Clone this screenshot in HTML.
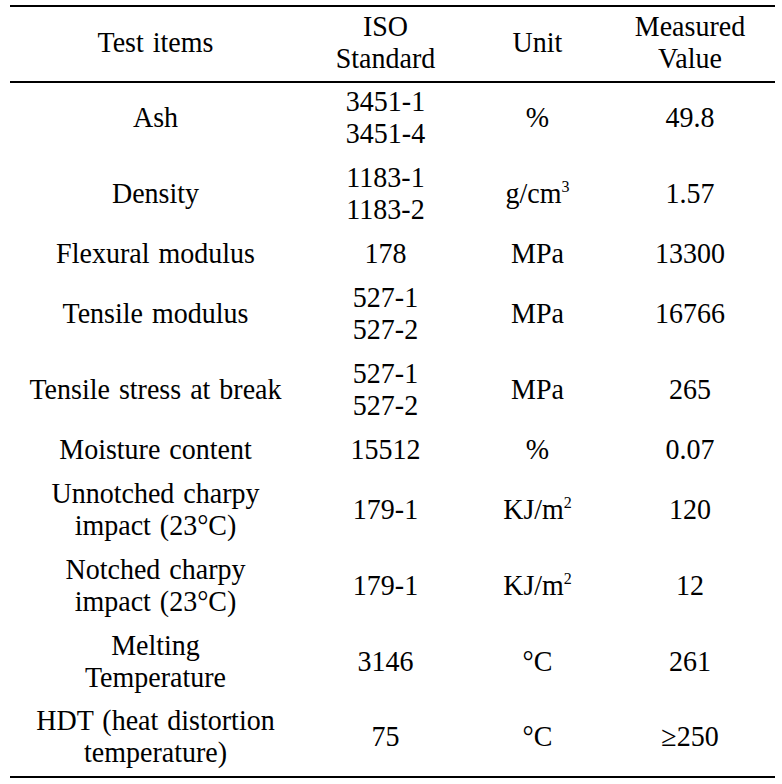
<!DOCTYPE html>
<html><head><meta charset="utf-8"><style>
html,body{margin:0;padding:0;background:#fff;}
body{width:782px;height:784px;position:relative;overflow:hidden;}
.t{position:absolute;width:300px;text-align:center;white-space:nowrap;font-family:"Liberation Serif",serif;font-size:28px;line-height:32px;color:#000;word-spacing:2px;}
.s{transform:scaleY(1.03);transform-origin:50% 25px;}
.sup{font-size:16px;position:relative;top:-11px;line-height:0;}
.rule{position:absolute;left:10px;width:765px;height:2px;background:#000;}
</style></head><body>
<div class="rule" style="top:5px"></div>
<div class="rule" style="top:81px"></div>
<div class="rule" style="top:776px"></div>
<div class="t s" style="left:5.50px;top:27.00px">Test items</div>
<div class="t s" style="left:235.50px;top:11.25px">ISO</div>
<div class="t s" style="left:235.50px;top:42.75px">Standard</div>
<div class="t s" style="left:387.50px;top:27.00px">Unit</div>
<div class="t s" style="left:540.00px;top:11.25px">Measured</div>
<div class="t s" style="left:540.00px;top:42.75px">Value</div>
<div class="t s" style="left:5.50px;top:102.00px">Ash</div>
<div class="t s" style="left:235.50px;top:86.25px">3451-1</div>
<div class="t s" style="left:235.50px;top:117.75px">3451-4</div>
<div class="t s" style="left:387.50px;top:102.00px">%</div>
<div class="t s" style="left:540.00px;top:102.00px">49.8</div>
<div class="t s" style="left:5.50px;top:178.00px">Density</div>
<div class="t s" style="left:235.50px;top:162.25px">1183-1</div>
<div class="t s" style="left:235.50px;top:193.75px">1183-2</div>
<div class="t s" style="left:387.50px;top:178.00px">g/cm<span class="sup">3</span></div>
<div class="t s" style="left:540.00px;top:178.00px">1.57</div>
<div class="t s" style="left:5.50px;top:238.00px">Flexural modulus</div>
<div class="t s" style="left:235.50px;top:238.00px">178</div>
<div class="t s" style="left:387.50px;top:238.00px">MPa</div>
<div class="t s" style="left:540.00px;top:238.00px">13300</div>
<div class="t s" style="left:5.50px;top:298.00px">Tensile modulus</div>
<div class="t s" style="left:235.50px;top:282.25px">527-1</div>
<div class="t s" style="left:235.50px;top:313.75px">527-2</div>
<div class="t s" style="left:387.50px;top:298.00px">MPa</div>
<div class="t s" style="left:540.00px;top:298.00px">16766</div>
<div class="t s" style="left:5.50px;top:374.00px">Tensile stress at break</div>
<div class="t s" style="left:235.50px;top:358.25px">527-1</div>
<div class="t s" style="left:235.50px;top:389.75px">527-2</div>
<div class="t s" style="left:387.50px;top:374.00px">MPa</div>
<div class="t s" style="left:540.00px;top:374.00px">265</div>
<div class="t s" style="left:5.50px;top:434.00px">Moisture content</div>
<div class="t s" style="left:235.50px;top:434.00px">15512</div>
<div class="t s" style="left:387.50px;top:434.00px">%</div>
<div class="t s" style="left:540.00px;top:434.00px">0.07</div>
<div class="t s" style="left:5.50px;top:478.25px">Unnotched charpy</div>
<div class="t s" style="left:5.50px;top:509.75px">impact (23°C)</div>
<div class="t s" style="left:235.50px;top:494.00px">179-1</div>
<div class="t s" style="left:387.50px;top:494.00px">KJ/m<span class="sup">2</span></div>
<div class="t s" style="left:540.00px;top:494.00px">120</div>
<div class="t s" style="left:5.50px;top:554.25px">Notched charpy</div>
<div class="t s" style="left:5.50px;top:585.75px">impact (23°C)</div>
<div class="t s" style="left:235.50px;top:570.00px">179-1</div>
<div class="t s" style="left:387.50px;top:570.00px">KJ/m<span class="sup">2</span></div>
<div class="t s" style="left:540.00px;top:570.00px">12</div>
<div class="t s" style="left:5.50px;top:630.25px">Melting</div>
<div class="t s" style="left:5.50px;top:661.75px">Temperature</div>
<div class="t s" style="left:235.50px;top:646.00px">3146</div>
<div class="t s" style="left:387.50px;top:646.00px">°C</div>
<div class="t s" style="left:540.00px;top:646.00px">261</div>
<div class="t s" style="left:5.50px;top:705.25px">HDT (heat distortion</div>
<div class="t s" style="left:5.50px;top:736.75px">temperature)</div>
<div class="t s" style="left:235.50px;top:721.00px">75</div>
<div class="t s" style="left:387.50px;top:721.00px">°C</div>
<div class="t s" style="left:540.00px;top:721.00px">≥250</div>
</body></html>
